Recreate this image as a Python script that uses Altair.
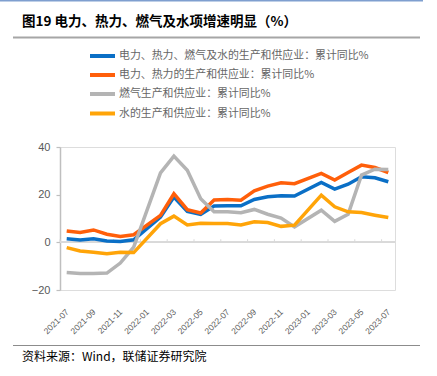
import altair as alt
import pandas as pd

months = ["2021-07", "2021-08", "2021-09", "2021-10", "2021-11", "2021-12",
          "2022-01", "2022-02", "2022-03", "2022-04", "2022-05", "2022-06",
          "2022-07", "2022-08", "2022-09", "2022-10", "2022-11", "2022-12",
          "2023-01", "2023-02", "2023-03", "2023-04", "2023-05", "2023-06", "2023-07"]

total = [1.5, 1.0, 1.5, 0.6, 0.4, 1.1, None, 10.6, 19.0, 13.0, 11.7, 15.2,
         15.3, 15.3, 18.0, 19.1, 19.5, 19.4, None, 25.1, 22.3, 24.4, 27.5, 27.1, 25.4]
power = [4.8, 4.1, 5.2, 3.4, 2.5, 3.2, None, 11.3, 20.4, 13.7, 12.3, 17.8,
         18.0, 17.7, 21.6, 23.6, 25.0, 24.6, None, 28.9, 26.1, 29.3, 32.4, 31.4, 29.3]
gas = [-12.7, -13.1, -13.1, -12.9, -8.7, -2.0, None, 29.1, 36.2, 30.2, 18.3, 12.8,
       12.8, 12.4, 13.8, 11.8, 10.2, 6.5, None, 13.5, 8.8, 11.8, 28.2, 30.7, 30.6]
water = [-2.2, -3.6, -4.2, -4.8, -4.2, -4.3, None, 7.8, 11.0, 7.3, 8.0, 7.9,
         7.9, 7.3, 8.6, 8.3, 6.7, 7.2, None, 19.8, 14.9, 12.8, 12.5, 11.4, 10.4]

series_names = ["电力、热力、燃气及水的生产和供应业：累计同比%",
                "电力、热力的生产和供应业：累计同比%",
                "燃气生产和供应业：累计同比%",
                "水的生产和供应业：累计同比%"]
series_colors = ["#0A6FC6", "#FF5F0A", "#B4B4B4", "#FFA408"]
label_months = months[::2]

title_text = "图19 电力、热力、燃气及水项增速明显（%）"
source_text = "资料来源：Wind，联储证券研究院"

rows = []
for name, vals in zip(series_names, [total, power, gas, water]):
    for m, v in zip(months, vals):
        if v is not None:
            rows.append({"month": m, "series": name, "value": v})
df = pd.DataFrame(rows)
ticks_df = pd.DataFrame({"month": label_months})

CJK = "Noto Sans CJK SC"
W, H = 335, 143

xscale = alt.Scale(domain=months, type="point", padding=0.5)
yscale = alt.Scale(domain=[-20, 40], nice=False)
cscale = alt.Scale(domain=series_names, range=series_colors)

yaxis = alt.Axis(values=[-20, -10, 0, 10, 20, 30, 40], title=None, grid=False,
                 domainColor="#BFBFBF", domainWidth=1.5,
                 tickColor="#BFBFBF", tickSize=4, tickWidth=1.2,
                 labelFont="Liberation Sans", labelFontSize=11,
                 labelColor="#595959", labelPadding=6)
xaxis = alt.Axis(values=label_months, title=None, domain=False, ticks=False,
                 labelAngle=-45, labelAlign="right", labelBaseline="middle",
                 labelFont="Liberation Sans", labelFontSize=8.5,
                 labelColor="#595959", labelPadding=20)

zero_line = alt.Chart(ticks_df).mark_rule(color="#D9D9D9", strokeWidth=1.5).encode(
    x=alt.value(0), x2=alt.value(W), y=alt.Y(datum=0, scale=yscale, axis=yaxis))

zero_ticks = alt.Chart(ticks_df).mark_rule(color="#D9D9D9", strokeWidth=1).encode(
    x=alt.X("month:O", scale=xscale, sort=months, axis=xaxis),
    xOffset=alt.value(-6.7),
    y=alt.Y(datum=0, scale=yscale),
    y2=alt.Y2(datum=1.3))

lines = alt.Chart(df).mark_line(strokeWidth=3.5, strokeJoin="miter", strokeCap="butt").encode(
    x=alt.X("month:O", scale=xscale, sort=months, axis=xaxis),
    y=alt.Y("value:Q", scale=yscale, axis=yaxis),
    color=alt.Color("series:N", sort=series_names, scale=cscale, legend=None),
    order=alt.Order("series_order:Q")
).transform_calculate(
    series_order="indexof(%s, datum.series)" % str(series_names)
)

# manual legend (top-left of the plot)
leg_y = [-91, -72, -53, -33.5]
legend_layers = []
for name, col, yy in zip(series_names, series_colors, leg_y):
    d = pd.DataFrame({"series": [name]})
    legend_layers.append(alt.Chart(d).mark_rule(color=col, strokeWidth=4).encode(
        x=alt.value(30), x2=alt.value(55), y=alt.value(yy)))
    legend_layers.append(alt.Chart(d).mark_text(align="left", baseline="middle", font=CJK,
                                                fontSize=10.9, color="#666666").encode(
        text="series:N", x=alt.value(59), y=alt.value(yy)))

one = pd.DataFrame({"t": [title_text], "s": [source_text]})

title = alt.Chart(one).mark_text(align="left", baseline="middle", font=CJK,
                                 fontSize=13.5, fontWeight="bold", color="#000000").encode(
    text="t:N", x=alt.value(-38), y=alt.value(-125))
source = alt.Chart(one).mark_text(align="left", baseline="middle", font=CJK,
                                  fontSize=12, color="#000000").encode(
    text="s:N", x=alt.value(-38), y=alt.value(210))
top_line = alt.Chart(one).mark_rule(color="#7F9FCF", strokeWidth=1.5).encode(
    x=alt.value(-60), x2=alt.value(363), y=alt.value(-146.3))
title_line = alt.Chart(one).mark_rule(color="#A6A6A6", strokeWidth=2).encode(
    x=alt.value(-47), x2=alt.value(360), y=alt.value(-109.5))
bottom_line = alt.Chart(one).mark_rule(color="#8C8C8C", strokeWidth=1).encode(
    x=alt.value(-47), x2=alt.value(360), y=alt.value(198.5))

chart = alt.layer(zero_line, zero_ticks, lines, *legend_layers, title, source,
                  top_line, title_line, bottom_line).properties(
    width=W, height=H,
    autosize=alt.AutoSizeParams(type="none"),
    padding={"left": 60, "top": 147, "right": 42, "bottom": 86}
).configure_view(stroke=None).configure(background="white")

chart.save("out.html", embed_options={"renderer": "svg", "actions": False})
